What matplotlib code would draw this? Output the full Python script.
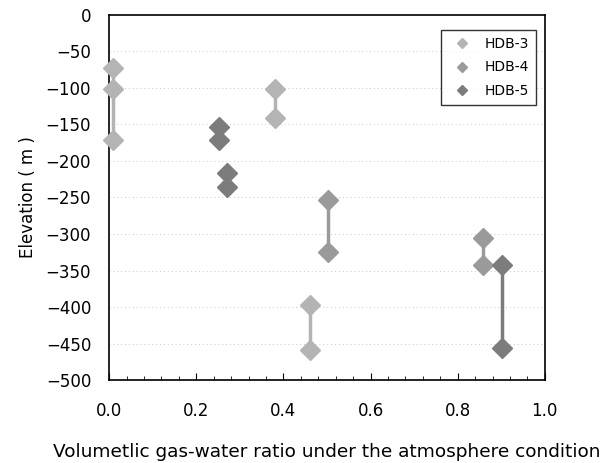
import numpy as np
import matplotlib.pyplot as plt
from matplotlib.ticker import MultipleLocator

# readings taken off the figure: gas-water ratio and elevation (m)
hdb3_x = [0.009, 0.009, 0.009, 0.381, 0.381, 0.461, 0.461]
hdb3_y = [-73, -101, -171, -102, -141, -397, -459]
hdb4_x = [0.503, 0.503, 0.858, 0.858]
hdb4_y = [-253, -325, -305, -342]
hdb5_x = [0.252, 0.252, 0.271, 0.271, 0.901, 0.901]
hdb5_y = [-153, -171, -217, -235, -342, -456]

series = [("HDB-3", hdb3_x, hdb3_y, "#b4b4b4"),
          ("HDB-4", hdb4_x, hdb4_y, "#9a9a9a"),
          ("HDB-5", hdb5_x, hdb5_y, "#7c7c7c")]

plt.rcParams['font.family'] = ['DejaVu Sans']
fig = plt.figure(figsize=(6, 4.63), dpi=100)
ax = fig.add_axes([0.182, 0.179, 0.726, 0.789])

for y in range(-450, 0, 50):
    ax.axhline(y, color="#c8c8c8", lw=0.7, ls=(0, (1, 3)), zorder=0)

for name, xs, ys, col in series:
    xs = np.array(xs)
    ys = np.array(ys)
    # vertical link between readings at the same ratio
    for xv in np.unique(xs):
        yy = ys[xs == xv]
        ax.plot([xv, xv], [yy.max(), yy.min()], color=col, lw=2.5, zorder=2)
    ax.plot(xs, ys, "D", ms=10, color=col, mec=col, label=name, zorder=3, clip_on=False)

ax.set_xlim(0, 1.0)
ax.set_ylim(-500, 0)
ax.xaxis.set_major_locator(MultipleLocator(0.2))
ax.xaxis.set_minor_locator(MultipleLocator(0.04))
ax.yaxis.set_major_locator(MultipleLocator(50))
ax.tick_params(axis="x", which="major", direction="in", length=5, labelsize=12, pad=16)
ax.tick_params(axis="x", which="minor", direction="in", length=3)
ax.tick_params(axis="y", length=0, labelsize=12, pad=13)
ax.xaxis.set_major_formatter(plt.FuncFormatter(lambda v, p: f"{v:.1f}"))
ax.yaxis.set_major_formatter(plt.FuncFormatter(lambda v, p: f"{int(v)}".replace("-", "\u2212")))
for s in ax.spines.values():
    s.set_linewidth(1.2)

ax.set_xlabel("Volumetlic gas-water ratio under the atmosphere condition", fontsize=13.3, labelpad=16)
ax.set_ylabel("Elevation ( m )", fontsize=12, labelpad=6)

leg = ax.legend(loc="upper right", bbox_to_anchor=(0.979, 0.959), borderaxespad=0,
                fontsize=10, markerscale=0.55, frameon=True, fancybox=False,
                edgecolor="black", handletextpad=0.6, borderpad=0.5, labelspacing=0.7)
leg.get_frame().set_linewidth(1.0)

fig.savefig("out.png", dpi=100)
